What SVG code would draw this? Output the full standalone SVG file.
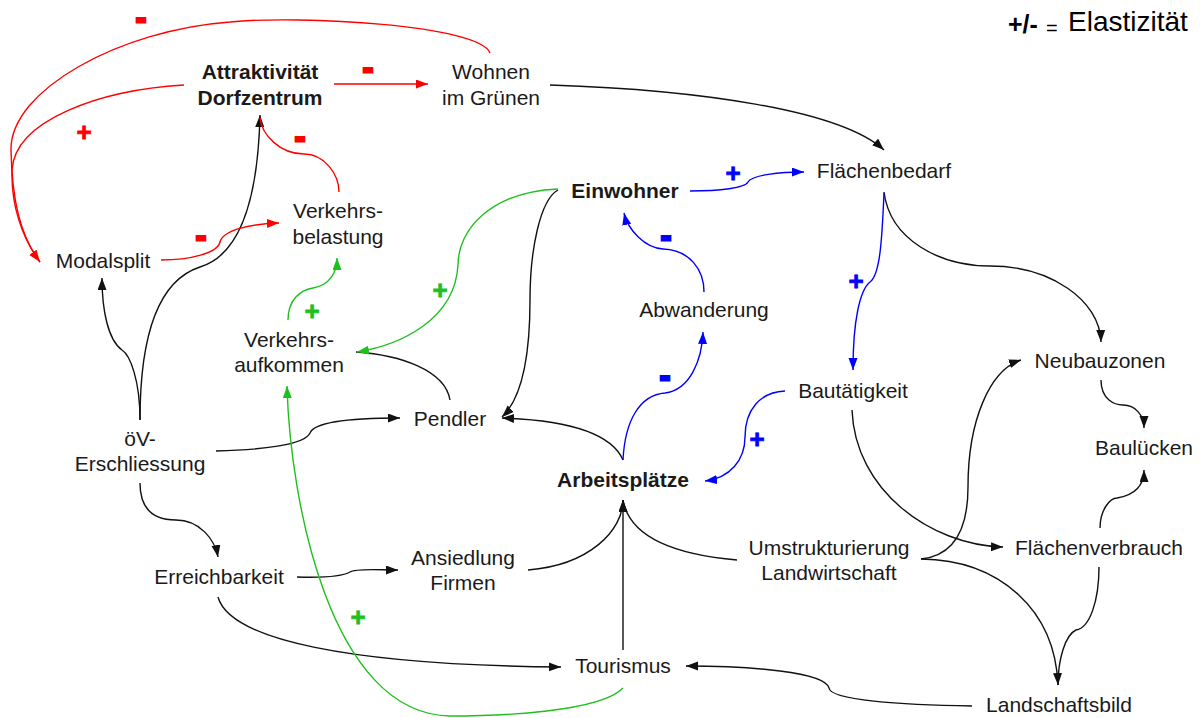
<svg xmlns="http://www.w3.org/2000/svg" width="1200" height="718" viewBox="0 0 1200 718">
<defs>
<style>
.n{font-family:"Liberation Sans",Arial,sans-serif;font-size:21px;fill:#1a1a1a;text-anchor:middle}
.b{font-weight:bold}
.c{fill:none;stroke-width:1.4}
.k{stroke:#111}
.r{stroke:#ff0000}
.g{stroke:#1ec01e}
.u{stroke:#0000ff}
.s{font-family:"Liberation Sans",Arial,sans-serif;font-weight:bold;text-anchor:middle}
.sp{font-size:26px;stroke-width:0.8}
.sm{font-size:30px;stroke-width:3}
.sr{fill:#ff0000;stroke:#ff0000}
.sg{fill:#1ec01e;stroke:#1ec01e}
.su{fill:#0000ff;stroke:#0000ff}
</style>
<marker id="ak" markerUnits="userSpaceOnUse" markerWidth="14" markerHeight="10" refX="12" refY="4.5" orient="auto"><path d="M0,0 L12,4.5 L0,9 z" fill="#111"/></marker>
<marker id="ar" markerUnits="userSpaceOnUse" markerWidth="14" markerHeight="10" refX="12" refY="4.5" orient="auto"><path d="M0,0 L12,4.5 L0,9 z" fill="#ff0000"/></marker>
<marker id="ag" markerUnits="userSpaceOnUse" markerWidth="14" markerHeight="10" refX="12" refY="4.5" orient="auto"><path d="M0,0 L12,4.5 L0,9 z" fill="#1ec01e"/></marker>
<marker id="au" markerUnits="userSpaceOnUse" markerWidth="14" markerHeight="10" refX="12" refY="4.5" orient="auto"><path d="M0,0 L12,4.5 L0,9 z" fill="#0000ff"/></marker>
</defs>
<rect width="1200" height="718" fill="#ffffff"/>

<g id="connectors">
<!-- black -->
<path class="c k" d="M550,85 C700,90 840,110 884,150" marker-end="url(#ak)"/>
<path class="c k" d="M140,420 C140,380 130,355 122,350 C108,340 102,310 102,278" marker-end="url(#ak)"/>
<path class="c k" d="M140,420 C140,330 160,280 200,267 C240,255 258,200 260,115" marker-end="url(#ak)"/>
<path class="c k" d="M216,451 C260,450 305,445 310,433 C315,420 360,418 400,418" marker-end="url(#ak)"/>
<path class="c k" d="M140,483 C140,505 150,520 176,520 C200,520 215,540 218,557" marker-end="url(#ak)"/>
<path class="c k" d="M297,577 C330,578 345,575 350,572 C355,568 380,570 398,570" marker-end="url(#ak)"/>
<path class="c k" d="M218,597 C230,640 350,665 561,667" marker-end="url(#ak)"/>
<path class="c k" d="M528,570 C590,565 623,530 623,500" marker-end="url(#ak)"/>
<path class="c k" d="M623,650 L623,500" marker-end="url(#ak)"/>
<path class="c k" d="M737,560 C680,555 630,540 623,500"/>
<path class="c k" d="M450,400 C445,370 400,355 356,352"/>
<path class="c k" d="M558,190 C540,200 530,250 530,300 C530,360 520,400 502,417" marker-end="url(#ak)"/>
<path class="c k" d="M623,460 C610,430 560,420 502,418" marker-end="url(#ak)"/>
<path class="c k" d="M884,192 C890,240 940,266 990,266 C1050,266 1100,300 1101,342" marker-end="url(#ak)"/>
<path class="c k" d="M1101,380 C1101,400 1115,405 1123,405 C1135,405 1144,415 1144,428" marker-end="url(#ak)"/>
<path class="c k" d="M1100,528 C1100,510 1110,498 1117,498 C1135,495 1144,485 1144,470" marker-end="url(#ak)"/>
<path class="c k" d="M852,410 C855,490 930,545 1003,547" marker-end="url(#ak)"/>
<path class="c k" d="M921,559 C960,555 968,520 968,487 C968,420 990,370 1021,360" marker-end="url(#ak)"/>
<path class="c k" d="M921,559 C1000,560 1055,610 1058,685" marker-end="url(#ak)"/>
<path class="c k" d="M1099,567 C1099,600 1090,628 1076,630 C1065,635 1058,660 1058,685"/>
<path class="c k" d="M972,706 C900,705 830,700 829,688 C825,672 750,666 686,666" marker-end="url(#ak)"/>
<!-- red -->
<path class="c r" d="M490,53 C480,25 300,15 230,22 C120,30 10,90 11,150 C12,200 20,235 40,262" marker-end="url(#ar)"/>
<path class="c r" d="M184,85 C100,90 15,120 12,170 C11,205 22,238 40,262"/>
<path class="c r" d="M334,84 L428,84" marker-end="url(#ar)"/>
<path class="c r" d="M339,192 C339,175 325,154 304,154 C280,154 262,135 260,118"/>
<path class="c r" d="M161,260 C190,260 218,253 220,242 C223,230 250,224 279,223" marker-end="url(#ar)"/>
<!-- green -->
<path class="c g" d="M623,688 C600,712 500,716 450,716 C330,714 290,500 287,386" marker-end="url(#ag)"/>
<path class="c g" d="M288,320 C288,300 300,290 313,288 C330,285 337,272 337,258" marker-end="url(#ag)"/>
<path class="c g" d="M558,189 C490,192 458,230 458,265 C455,320 400,345 357,352" marker-end="url(#ag)"/>
<!-- blue -->
<path class="c u" d="M690,191 C720,191 745,188 748,182 C752,175 780,172 804,172" marker-end="url(#au)"/>
<path class="c u" d="M884,193 C882,240 880,275 870,282 C860,290 853,320 853,370" marker-end="url(#au)"/>
<path class="c u" d="M704,292 C704,270 690,250 663,249 C645,248 628,230 624,213" marker-end="url(#au)"/>
<path class="c u" d="M623,460 C625,420 640,395 665,393 C690,390 702,360 703,332" marker-end="url(#au)"/>
<path class="c u" d="M785,391 C760,392 745,410 745,437 C745,460 730,478 705,481" marker-end="url(#au)"/>
</g>

<g id="signs">
<text class="s sm sr" x="141" y="28">-</text>
<text class="s sp sr" x="84" y="141">+</text>
<text class="s sm sr" x="368" y="78">-</text>
<text class="s sm sr" x="300" y="147">-</text>
<text class="s sm sr" x="201" y="246">-</text>
<text class="s sp sg" x="312" y="320">+</text>
<text class="s sp sg" x="440" y="299">+</text>
<text class="s sp sg" x="358" y="626">+</text>
<text class="s sp su" x="733" y="182">+</text>
<text class="s sm su" x="666" y="246">-</text>
<text class="s sp su" x="856" y="290">+</text>
<text class="s sm su" x="665" y="386">-</text>
<text class="s sp su" x="757" y="448">+</text>
</g>

<g id="legend">
<text x="1008" y="33" style="font-family:'Liberation Sans',Arial,sans-serif;font-weight:bold;font-size:25px;fill:#000">+/-</text>
<text x="1046" y="35" style="font-family:'Liberation Sans',Arial,sans-serif;font-size:20px;fill:#000">=</text>
<text x="1068" y="31" style="font-family:'Liberation Sans',Arial,sans-serif;font-size:28px;fill:#000">Elastizität</text>
</g>

<g id="n-attraktivitaet"><text class="n b" x="260" y="79">Attraktivität</text><text class="n b" x="260" y="105">Dorfzentrum</text></g>
<g id="n-wohnen"><text class="n" x="491" y="79">Wohnen</text><text class="n" x="491" y="105">im Grünen</text></g>
<g id="n-flaechenbedarf"><text class="n" x="884" y="178">Flächenbedarf</text></g>
<g id="n-einwohner"><text class="n b" x="625" y="198">Einwohner</text></g>
<g id="n-verkehrsbelastung"><text class="n" x="338" y="218">Verkehrs-</text><text class="n" x="338" y="244">belastung</text></g>
<g id="n-modalsplit"><text class="n" x="103" y="268">Modalsplit</text></g>
<g id="n-abwanderung"><text class="n" x="704" y="317">Abwanderung</text></g>
<g id="n-verkehrsaufkommen"><text class="n" x="289" y="347">Verkehrs-</text><text class="n" x="289" y="372">aufkommen</text></g>
<g id="n-neubauzonen"><text class="n" x="1100" y="368">Neubauzonen</text></g>
<g id="n-bautaetigkeit"><text class="n" x="853" y="398">Bautätigkeit</text></g>
<g id="n-pendler"><text class="n" x="450" y="426">Pendler</text></g>
<g id="n-oev"><text class="n" x="140" y="446">öV-</text><text class="n" x="140" y="471">Erschliessung</text></g>
<g id="n-bauluecken"><text class="n" x="1144" y="455">Baulücken</text></g>
<g id="n-arbeitsplaetze"><text class="n b" x="623" y="487">Arbeitsplätze</text></g>
<g id="n-umstrukturierung"><text class="n" x="829" y="555">Umstrukturierung</text><text class="n" x="829" y="580">Landwirtschaft</text></g>
<g id="n-flaechenverbrauch"><text class="n" x="1099" y="555">Flächenverbrauch</text></g>
<g id="n-erreichbarkeit"><text class="n" x="219" y="584">Erreichbarkeit</text></g>
<g id="n-ansiedlung"><text class="n" x="463" y="565">Ansiedlung</text><text class="n" x="463" y="590">Firmen</text></g>
<g id="n-tourismus"><text class="n" x="623" y="673">Tourismus</text></g>
<g id="n-landschaftsbild"><text class="n" x="1059" y="712">Landschaftsbild</text></g>
</svg>
